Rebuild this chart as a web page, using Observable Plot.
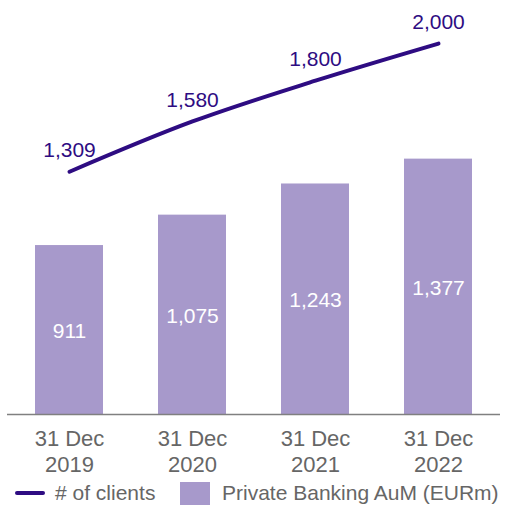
<!DOCTYPE html>
<html>
<head>
<meta charset="utf-8">
<script src="https://cdn.jsdelivr.net/npm/d3@7"></script>
<script src="https://cdn.jsdelivr.net/npm/@observablehq/plot@0.6"></script>
<style>
  html, body { margin: 0; padding: 0; background: #fff; }
  body { width: 508px; height: 505px; overflow: hidden; font-family: "Liberation Sans", Arial, sans-serif; }
  #legend { position: relative; height: 28px; font-size: 21px; color: #666; margin-top: 2px; }
  #legend .item { position: absolute; top: 0; display: flex; align-items: center; height: 28px; }
  #legend .line { width: 30px; height: 4px; background: #2e0c82; border-radius: 2px; margin-right: 10px; }
  #legend .sq { width: 30px; height: 23px; background: #a799cb; margin-right: 12px; }
</style>
</head>
<body>
<div id="chart"></div>
<div id="legend">
  <div class="item" style="left:15px"><span class="line"></span><span id="lg1"></span></div>
  <div class="item" style="left:180px"><span class="sq"></span><span id="lg2"></span></div>
</div>
<script>
const categories = ["2019", "2020", "2021", "2022"];
const tickLabels = ["31 Dec\n2019", "31 Dec\n2020", "31 Dec\n2021", "31 Dec\n2022"];
const aum = [911, 1075, 1243, 1377];
const clients = [1309, 1580, 1800, 2000];
const seriesNames = ["# of clients", "Private Banking AuM (EURm)"];

document.getElementById("lg1").textContent = seriesNames[0];
document.getElementById("lg2").textContent = seriesNames[1];

const barData = categories.map((c, i) => ({cat: c, v: aum[i]}));
const lineData = categories.map((c, i) => ({cat: c, v: clients[i]}));
const tickData = categories.map((c, i) => ({cat: c, label: tickLabels[i]}));
const fmt = d3.format(",");

const chart = Plot.plot({
  width: 508,
  height: 477,
  marginLeft: 7,
  marginRight: 8,
  marginTop: 6,
  marginBottom: 63,
  style: {fontFamily: "'Liberation Sans', Arial, sans-serif", background: "transparent"},
  x: {domain: categories, paddingInner: 0.45, paddingOuter: 0.227, axis: null},
  y: {domain: [0, 2200], axis: null},
  marks: [
    Plot.barY(barData, {x: "cat", y: "v", fill: "#a799cb"}),
    Plot.text(barData, {x: "cat", y: d => d.v / 2, text: d => fmt(d.v), fill: "#ffffff", fontSize: 21, dy: 1}),
    Plot.ruleY([0], {stroke: "#808080", strokeWidth: 1.5}),
    Plot.line(lineData, {x: "cat", y: "v", stroke: "#2e0c82", strokeWidth: 4, curve: "monotone-x", strokeLinecap: "round"}),
    Plot.text(lineData, {x: "cat", y: "v", text: d => fmt(d.v), fill: "#2e0c82", fontSize: 21, dy: -21}),
    Plot.text(tickData, {x: "cat", y: 0, text: "label", fill: "#666666", fontSize: 22, lineAnchor: "top", lineHeight: 1.18, dy: 13})
  ]
});
document.getElementById("chart").appendChild(chart);
</script>
</body>
</html>
